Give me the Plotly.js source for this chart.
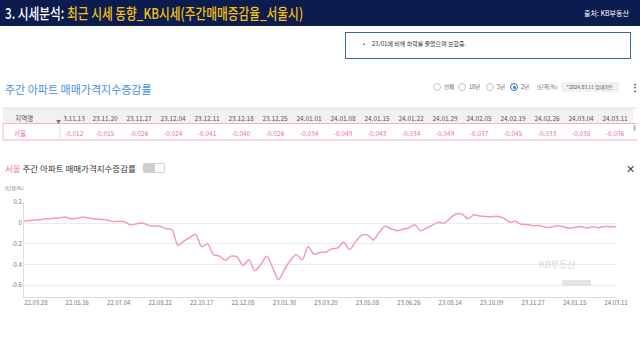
<!DOCTYPE html>
<html>
<head>
<meta charset="utf-8">
<script src="https://cdn.plot.ly/plotly-3.0.1.min.js"></script>
<style>
  html, body { margin:0; padding:0; background:#ffffff; width:640px; height:360px; overflow:hidden; }
  body { position:relative; font-family:"Noto Sans CJK KR","Noto Sans",sans-serif; }
  #chart { position:absolute; left:0; top:0; width:640px; height:360px; }
  .abs { position:absolute; white-space:nowrap; }
  #hdr { left:0; top:0; width:640px; height:26px; background:#0c1c4e; }
  #hdrTitle { left:5px; top:3px; font-size:15px; line-height:20px; color:#ffffff; transform:scaleX(0.78); transform-origin:left center; font-weight:500; }
  #hdrTitle span { color:#f4c20d; }
  #hdrSrc { left:584px; top:8px; font-size:7px; line-height:10px; color:#ffffff; }
  #note { left:345px; top:32px; width:286px; height:27px; border:1.5px solid #3d6b98; box-sizing:border-box; }
  #noteTxt { left:363px; top:40px; font-size:6px; line-height:8px; color:#333; }
  #secTitle { left:5px; top:82px; font-size:11px; line-height:15px; color:#4a8ee0; }
  .radio { width:8px; height:8px; border:1px solid #c4c4c4; border-radius:50%; box-sizing:border-box; top:83px; background:#fff; }
  .radio.on { border:1px solid #2f6fe0; }
  .radio.on::after { content:""; position:absolute; left:1.5px; top:1.5px; width:3px; height:3px; border-radius:50%; background:#2f6fe0; }
  .rlab { top:83px; font-size:5.5px; line-height:8px; color:#666; }
  #upd { left:561px; top:82px; width:58px; height:10px; background:#f1f1f1; font-size:5px; line-height:10px; color:#555; text-align:center; }
  #dots { left:630px; top:80px; font-size:10px; line-height:13px; color:#444; font-weight:bold; }
  #chTitle { left:5px; top:162px; font-size:8.5px; line-height:12px; color:#333; }
  #chTitle span { color:#e8789c; }
  #tog { left:143px; top:163px; width:22px; height:10px; border:1px solid #cfcfcf; border-radius:2px; box-sizing:border-box; background:#fff; }
  #togL { left:0; top:0; width:11px; height:8px; background:#cfcfcf; }
  #unit { left:5px; top:184px; font-size:5px; line-height:7px; color:#666; }
  #close { left:626px; top:162px; font-size:11px; line-height:13px; color:#444; }
</style>
</head>
<body>
<div id="chart"></div>
<div class="abs" id="hdr"></div>
<div class="abs" id="hdrTitle">3. 시세분석: <span>최근 시세 동향_KB시세(주간매매증감율_서울시)</span></div>
<div class="abs" id="hdrSrc">출처: KB부동산</div>
<div class="abs" id="note"></div>
<div class="abs" id="noteTxt">•&nbsp;&nbsp;&nbsp;&nbsp;&nbsp;23/01에 비해 하락률 줄었으며 보합중.</div>
<div class="abs" id="secTitle">주간 아파트 매매가격지수증감률</div>
<div class="abs radio" style="left:433px"></div><div class="abs rlab" style="left:444px">전체</div>
<div class="abs radio" style="left:458px"></div><div class="abs rlab" style="left:469px">10년</div>
<div class="abs radio" style="left:486px"></div><div class="abs rlab" style="left:497px">5년</div>
<div class="abs radio on" style="left:510px"></div><div class="abs rlab" style="left:521px">2년</div>
<div class="abs rlab" style="left:537px">(단위:%)</div>
<div class="abs" id="upd">*2024.03.11 업데이트</div>
<div class="abs" id="dots">⋮</div>
<div class="abs" id="chTitle"><span>서울</span> 주간 아파트 매매가격지수증감률</div>
<div class="abs" id="tog"><div class="abs" id="togL"></div></div>
<div class="abs" id="unit">(단위:%)</div>
<div class="abs" id="close">✕</div>
<script>
// Weekly dates (KB weekly survey, holiday weeks skipped)
const dates = [
 '22.03.14','22.03.21','22.03.28','22.04.04','22.04.11','22.04.18','22.04.25','22.05.02','22.05.09','22.05.16',
 '22.05.23','22.05.30','22.06.06','22.06.13','22.06.20','22.06.27','22.07.04','22.07.11','22.07.18','22.07.25',
 '22.08.01','22.08.08','22.08.15','22.08.22','22.08.29','22.09.05','22.09.19','22.09.26','22.10.03','22.10.10',
 '22.10.17','22.10.24','22.10.31','22.11.07','22.11.14','22.11.21','22.11.28','22.12.05','22.12.12','22.12.19',
 '22.12.26','23.01.02','23.01.09','23.01.16','23.01.30','23.02.06','23.02.13','23.02.20','23.02.27','23.03.06',
 '23.03.13','23.03.20','23.03.27','23.04.03','23.04.10','23.04.17','23.04.24','23.05.01','23.05.08','23.05.15',
 '23.05.22','23.05.29','23.06.05','23.06.12','23.06.19','23.06.26','23.07.03','23.07.10','23.07.17','23.07.24',
 '23.07.31','23.08.07','23.08.14','23.08.21','23.08.28','23.09.04','23.09.11','23.09.18','23.09.25','23.10.09',
 '23.10.16','23.10.23','23.10.30','23.11.06','23.11.13','23.11.20','23.11.27','23.12.04','23.12.11','23.12.18',
 '23.12.25','24.01.01','24.01.08','24.01.15','24.01.22','24.01.29','24.02.05','24.02.19','24.02.26','24.03.04',
 '24.03.11'
];
// Seoul weekly apartment sale price index change (%)
const seoul = [
 0.020, 0.025, 0.030, 0.035, 0.040, 0.045, 0.048, 0.058, 0.040, 0.046,
 0.058, 0.048, 0.038, 0.035, 0.030, 0.015, 0.016, 0.012,-0.020,-0.008,
 0.000,-0.022,-0.030,-0.032,-0.055,-0.065,-0.215,-0.175,-0.140,-0.110,
-0.230,-0.200,-0.305,-0.320,-0.360,-0.320,-0.330,-0.410,-0.355,-0.460,
-0.400,-0.320,-0.430,-0.547,-0.450,-0.360,-0.305,-0.355,-0.230,-0.300,
-0.285,-0.280,-0.250,-0.240,-0.187,-0.257,-0.180,-0.120,-0.113,-0.164,
-0.090,-0.032,-0.055,-0.074,-0.060,-0.048,-0.016,-0.074,-0.050,-0.020,
 0.006, 0.000, 0.048, 0.087, 0.085, 0.041, 0.080, 0.068, 0.062, 0.060,
 0.064, 0.048, 0.010, 0.016,-0.012,-0.015,-0.026,-0.024,-0.041,-0.040,
-0.026,-0.034,-0.049,-0.043,-0.034,-0.049,-0.037,-0.045,-0.033,-0.035,
-0.036
];
const xTickLabels = ['22.03.28','22.05.16','22.07.04','22.08.22','22.10.17','22.12.05','23.01.30','23.03.20',
 '23.05.08','23.06.26','23.08.14','23.10.09','23.11.27','24.01.15','24.03.11'];
const yTickVals = [0.2, 0, -0.2, -0.4, -0.6];
const yTickText = ['0.2', '0', '-0.2', '-0.4', '-0.6'];
const regionName = '서울';
const regionHeader = '지역명';
const tableCount = 17;

// table columns built from the data (first date column is scrolled/clipped in the source)
const tblDates = dates.slice(-tableCount);
const tblVals = seoul.slice(-tableCount).map(v => v.toFixed(3));
const headerVals = ['\u00a0\u00a0\u00a0' + regionHeader].concat(tblDates.map((d, i) => i === 0 ? d.slice(1) : d)).map(s => [s]);
const cellVals = ['\u00a0\u00a0' + regionName].concat(tblVals).map(s => [s]);
const colW = [57, 28].concat(new Array(tableCount - 1).fill(34));

const pink = '#f29bb8';
const traces = [
  {
    type: 'scatter', mode: 'lines', x: dates, y: seoul,
    line: { color: pink, width: 1.5, shape: 'spline', smoothing: 0.8 },
    hoverinfo: 'skip', xaxis: 'x', yaxis: 'y'
  },
  {
    type: 'table',
    domain: { x: [3/640, 632/640], y: [1 - 140/360, 1 - 108/360] },
    columnwidth: colW,
    header: {
      values: headerVals, height: 15,
      align: ['left'].concat(new Array(tableCount).fill('center')),
      fill: { color: '#f1f1f1' }, line: { color: '#f1f1f1', width: 1 },
      font: { family: 'Noto Sans CJK KR, Noto Sans, sans-serif', size: 6.5, color: '#555' }
    },
    cells: {
      values: cellVals, height: 16,
      align: ['left'].concat(new Array(tableCount).fill('center')),
      fill: { color: '#ffffff' }, line: { color: '#ffffff', width: 1 },
      font: { family: 'Noto Sans CJK KR, Noto Sans, sans-serif', size: 6.5, color: '#ea6f97' }
    }
  }
];

const layout = {
  width: 640, height: 360,
  margin: { l: 0, r: 0, t: 0, b: 0 },
  paper_bgcolor: 'rgba(0,0,0,0)', plot_bgcolor: 'rgba(0,0,0,0)',
  showlegend: false,
  font: { family: 'Noto Sans CJK KR, Noto Sans, sans-serif' },
  xaxis: {
    domain: [24/640, 616/640], type: 'category', range: [0, dates.length - 1],
    tickmode: 'array', tickvals: xTickLabels, ticktext: xTickLabels,
    showgrid: false, showline: true, linecolor: '#dddddd', linewidth: 1,
    ticks: '', tickfont: { size: 6, color: '#777' }, automargin: false, fixedrange: true
  },
  yaxis: {
    domain: [1 - 296.7/360, 1 - 202.2/360], range: [-0.712, 0.201],
    tickmode: 'array', tickvals: yTickVals, ticktext: yTickText,
    showgrid: true, gridcolor: '#ebebeb', gridwidth: 1, zeroline: false,
    showline: true, linecolor: '#dddddd', linewidth: 1,
    ticks: '', tickfont: { size: 6, color: '#777' }, automargin: false, fixedrange: true
  },
  shapes: [
    { type: 'line', xref: 'paper', yref: 'paper', x0: 3/640, x1: 637/640, y0: 1 - 108/360, y1: 1 - 108/360, line: { color: '#e2e2e2', width: 1 } },
    { type: 'line', xref: 'paper', yref: 'paper', x0: 3/640, x1: 637/640, y0: 1 - 123.5/360, y1: 1 - 123.5/360, line: { color: '#f3b3c8', width: 1 } },
    { type: 'line', xref: 'paper', yref: 'paper', x0: 3/640, x1: 637/640, y0: 1 - 140/360, y1: 1 - 140/360, line: { color: '#f3b3c8', width: 1 } },
    { type: 'line', xref: 'paper', yref: 'paper', x0: 3/640, x1: 3/640, y0: 1 - 140/360, y1: 1 - 123.5/360, line: { color: '#f3b3c8', width: 1 } },
    { type: 'line', xref: 'paper', yref: 'paper', x0: 60/640, x1: 60/640, y0: 1 - 138/360, y1: 1 - 125/360, line: { color: '#f6d0dc', width: 1 } },
    { type: 'line', xref: 'paper', yref: 'paper', x0: 634.5/640, x1: 634.5/640, y0: 1 - 131/360, y1: 1 - 125/360, line: { color: '#aaaaaa', width: 1.5 } },
    { type: 'rect', xref: 'paper', yref: 'paper', x0: 562/640, x1: 591/640, y0: 1 - 286/360, y1: 1 - 280/360, fillcolor: '#e4e4e4', line: { width: 0 } }
  ],
  annotations: [
    { xref: 'paper', yref: 'paper', x: 54/640, y: 1 - 115.5/360, text: '▼', showarrow: false, font: { size: 5, color: '#777' } },
    { xref: 'paper', yref: 'paper', x: 578/640, y: 1 - 272.5/360, text: 'KB부동산', showarrow: false, font: { size: 9, color: '#d6d6d6' } }
  ]
};

Plotly.newPlot('chart', traces, layout, { staticPlot: true, displayModeBar: false });
</script>
</body>
</html>
